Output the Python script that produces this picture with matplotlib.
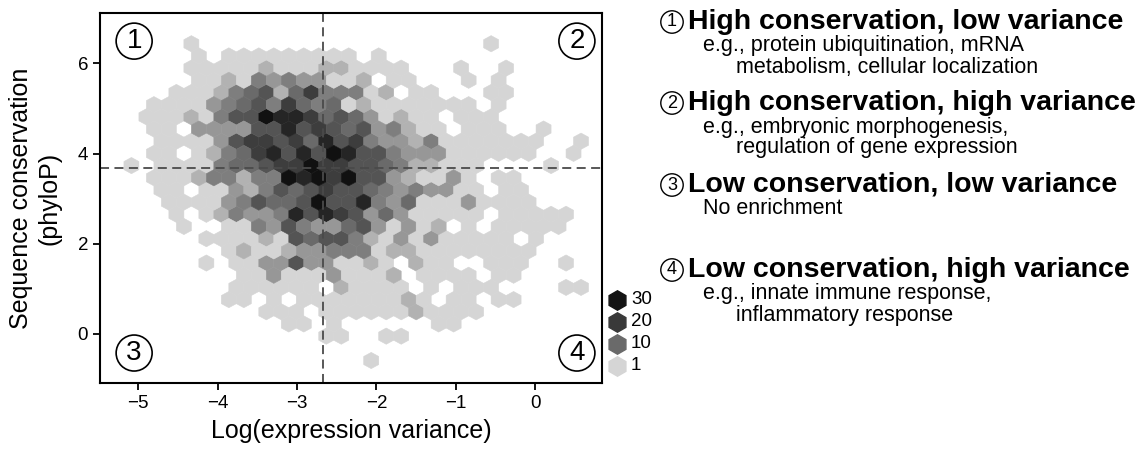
import numpy as np
import matplotlib.pyplot as plt
from matplotlib.colors import LinearSegmentedColormap, PowerNorm

plt.rcParams['font.family'] = ['Liberation Sans', 'DejaVu Sans']

# hex cells, top row first.
# '.' = empty cell, digit = shade level (index into LEVEL_COUNTS)
HEX_ROWS = [
    "....1...................1......",
    "....1.111111111.1..............",
    "....111112111221111...1..1.....",
    "....112143433112.11...1.1......",
    "...111245625744412.11...11.....",
    ".1111345647545121111111.1......",
    ".11121466988756531211.111......",
    ".11.33336686765634211.111..1...",
    "..11113677675867433241111111..1",
    ".11.12457868698664333111111..1.",
    "1.1111455677977665422111....1..",
    ".1112442449897966321131.11.....",
    "..11.1132465676654343311.11....",
    "..1111346556966843511131111....",
    "...1.1243348687635311111.11111.",
    "...1..114364335631312.1.11111..",
    ".....111121656642131311111.1...",
    "......121123344412211111111....",
    ".....1.11336331121.211..111..1.",
    ".......11311131112.1111.11.....",
    ".......111111.21111.1.111....11",
    "......11.1.111111121.11.11.....",
    ".........111.11111121111.......",
    "..........11.1......11.........",
    ".............11..11............",
    "...............................",
    "................1..............",
]
LEVEL_COUNTS = [0, 1, 2, 4, 7, 10, 14, 19, 25, 31]

# hex lattice (data units)
X_MIN, X_STEP = -5.0843, 0.18868
Y_TOP, Y_STEP = 6.438, 0.27035
N_COLS = 31
N_ROWS = len(HEX_ROWS)

legend_counts = [30, 20, 10, 1]

x_ticks = [-5, -4, -3, -2, -1, 0]
y_ticks = [0, 2, 4, 6]
x_cut = -2.67
y_cut = 3.67

items = [
    ("1", "High conservation, low variance",
     ["e.g., protein ubiquitination, mRNA", "metabolism, cellular localization"]),
    ("2", "High conservation, high variance",
     ["e.g., embryonic morphogenesis,", "regulation of gene expression"]),
    ("3", "Low conservation, low variance",
     ["No enrichment"]),
    ("4", "Low conservation, high variance",
     ["e.g., innate immune response,", "inflammatory response"]),
]

xs, ys, cs = [], [], []
for r, row in enumerate(HEX_ROWS):
    for c, ch in enumerate(row):
        if ch == '.':
            continue
        xs.append(X_MIN + X_STEP * (c + 0.5 * (r % 2)))
        ys.append(Y_TOP - Y_STEP * r)
        cs.append(LEVEL_COUNTS[int(ch)])

cmap = LinearSegmentedColormap.from_list('grey', ['#d5d5d5', '#0e0e0e'])
norm = PowerNorm(0.5, vmin=1, vmax=32)

W, H = 1148, 453
fig = plt.figure(figsize=(W / 100, H / 100), dpi=100)
ax = fig.add_axes([100 / W, 1 - 383 / H, 502 / W, 370 / H])

ax.hexbin(xs, ys, C=cs, reduce_C_function=np.sum,
          gridsize=(N_COLS, (N_ROWS - 1) // 2),
          extent=(X_MIN, X_MIN + N_COLS * X_STEP,
                  Y_TOP - (N_ROWS - 1) * Y_STEP, Y_TOP),
          cmap=cmap, norm=norm, linewidths=0.4, edgecolors='face')

ax.axvline(x_cut, color='#4a4a4a', lw=1.3, ls=(0, (5, 3)))
ax.axhline(y_cut, color='#4a4a4a', lw=1.3, ls=(0, (5, 3)))

ax.set_xlim(-5.48, 0.84)
ax.set_ylim(-1.09, 7.12)
ax.set_xticks(x_ticks)
ax.set_yticks(y_ticks)
ax.set_xticklabels([str(t).replace('-', '\u2212') for t in x_ticks])
ax.tick_params(labelsize=13.5, length=5, width=1.3, direction='out')
for s in ax.spines.values():
    s.set_linewidth(1.5)
ax.set_xlabel('Log(expression variance)', fontsize=18, labelpad=5)
ax.set_ylabel('Sequence conservation\n(phyloP)', fontsize=18, labelpad=12)

circ = dict(boxstyle='circle,pad=0.18', fc='white', ec='black', lw=1.2)
for num, (px, py) in zip(["1", "2", "3", "4"],
                         [(0.068, 0.924), (0.950, 0.924),
                          (0.068, 0.081), (0.950, 0.081)]):
    ax.text(px, py, num, transform=ax.transAxes, fontsize=20,
            ha='center', va='center', bbox=circ)

# colour key
for i, n in enumerate(legend_counts):
    ky = 1 - (300 + 22 * i) / H
    fig.lines.append(plt.Line2D([617 / W], [ky], marker='h', markersize=14,
                                color=cmap(norm(n)), transform=fig.transFigure))
    fig.text(631 / W, ky, str(n), fontsize=13.5, va='center', ha='left')

# quadrant descriptions
small_circ = dict(boxstyle='circle,pad=0.15', fc='white', ec='black', lw=1.0)
tops = [22, 103, 185, 270]
for (num, title, lines), ty in zip(items, tops):
    fig.text(672 / W, 1 - ty / H, num, fontsize=13, ha='center', va='center',
             bbox=small_circ)
    fig.text(688 / W, 1 - ty / H, title, fontsize=20.5, fontweight='bold',
             ha='left', va='center')
    for j, line in enumerate(lines):
        lx = 703 if j == 0 else 736
        fig.text(lx / W, 1 - (ty + 24 + 21 * j) / H, line, fontsize=15.5,
                 ha='left', va='center')

fig.savefig('out.png', dpi=100)
